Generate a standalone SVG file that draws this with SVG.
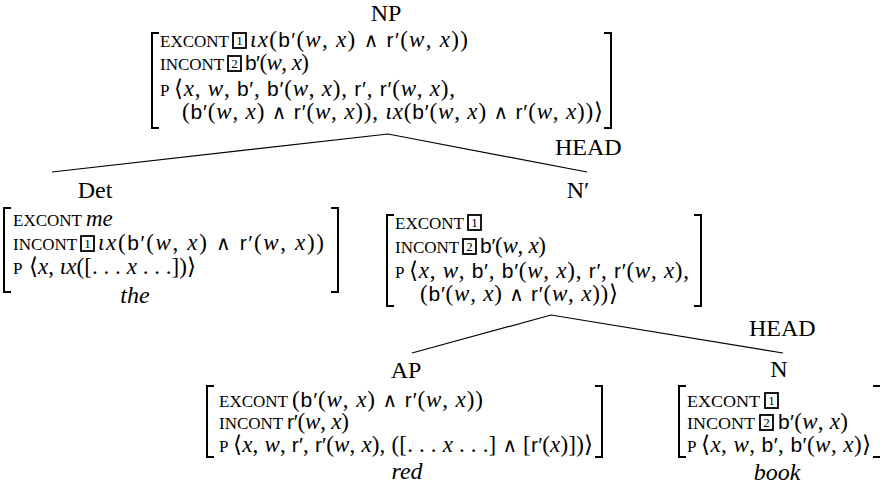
<svg xmlns="http://www.w3.org/2000/svg" width="880" height="497" viewBox="0 0 880 497">
<style>
.lab{font-family:"Liberation Serif",serif;font-size:24px;fill:#000}
.mid{text-anchor:middle}
.sc{font-family:"Liberation Serif",serif;font-size:17px;fill:#000}
.m{font-family:"Liberation Serif","DejaVu Serif",serif;font-size:23px;fill:#000}
.i{font-style:italic}
.s{font-family:"Liberation Sans",sans-serif;font-size:21px}
.w{font-family:"DejaVu Sans Light","DejaVu Sans",sans-serif;font-size:20px}
.bx{fill:none;stroke:#000;stroke-width:1.8}
.bn{font-family:"Liberation Serif",serif;font-size:13px;text-anchor:middle;fill:#000}
.br{fill:none;stroke:#000;stroke-width:2}
.ln{fill:none;stroke:#000;stroke-width:1.2}
</style>
<g id="connectors">
<path class="ln" d="M52,172 L388,134 L587,172"/>
<path class="ln" d="M412,353 L551,315 L783,353"/>
<text class="lab" x="555" y="155">HEAD</text>
<text class="lab" x="749" y="336">HEAD</text>
</g>
<g id="np">
<text class="lab mid" x="386" y="21">NP</text>
<path class="br" d="M159,33 H152 V128 H159"/>
<path class="br" d="M604,33 H611 V128 H604"/>
<text class="sc" x="160" y="47">EXCONT</text>
<rect class="bx" x="233" y="33" width="13" height="15"/><text class="bn" x="239.5" y="45">1</text>
<text class="m" x="250" y="47" textLength="218" lengthAdjust="spacing"><tspan class="i">ιx</tspan>(<tspan class="s">b′</tspan>(<tspan class="i">w</tspan>, <tspan class="i">x</tspan>) <tspan class="w">∧</tspan> <tspan class="s">r′</tspan>(<tspan class="i">w</tspan>, <tspan class="i">x</tspan>))</text>
<text class="sc" x="160" y="70">INCONT</text>
<rect class="bx" x="228" y="56" width="13" height="15"/><text class="bn" x="234.5" y="68">2</text>
<text class="m" x="245" y="70" textLength="64" lengthAdjust="spacing"><tspan class="s">b′</tspan>(<tspan class="i">w</tspan>, <tspan class="i">x</tspan>)</text>
<text class="sc" x="160" y="96">P</text>
<text class="m" x="174" y="96" textLength="281" lengthAdjust="spacing">⟨<tspan class="i">x</tspan>, <tspan class="i">w</tspan>, <tspan class="s">b′</tspan>, <tspan class="s">b′</tspan>(<tspan class="i">w</tspan>, <tspan class="i">x</tspan>), <tspan class="s">r′</tspan>, <tspan class="s">r′</tspan>(<tspan class="i">w</tspan>, <tspan class="i">x</tspan>),</text>
<text class="m" x="182" y="119" textLength="421" lengthAdjust="spacing">(<tspan class="s">b′</tspan>(<tspan class="i">w</tspan>, <tspan class="i">x</tspan>) <tspan class="w">∧</tspan> <tspan class="s">r′</tspan>(<tspan class="i">w</tspan>, <tspan class="i">x</tspan>)), <tspan class="i">ιx</tspan>(<tspan class="s">b′</tspan>(<tspan class="i">w</tspan>, <tspan class="i">x</tspan>) <tspan class="w">∧</tspan> <tspan class="s">r′</tspan>(<tspan class="i">w</tspan>, <tspan class="i">x</tspan>))⟩</text>
</g>
<g id="det">
<text class="lab mid" x="95" y="198">Det</text>
<path class="br" d="M11,208 H4 V292 H11"/>
<path class="br" d="M331,208 H338 V292 H331"/>
<text class="sc" x="13" y="226">EXCONT</text>
<text class="m i" x="86" y="226">me</text>
<text class="sc" x="13" y="250">INCONT</text>
<rect class="bx" x="81" y="236" width="13" height="15"/><text class="bn" x="87.5" y="248">1</text>
<text class="m" x="98" y="250" textLength="226" lengthAdjust="spacing"><tspan class="i">ιx</tspan>(<tspan class="s">b′</tspan>(<tspan class="i">w</tspan>, <tspan class="i">x</tspan>) <tspan class="w">∧</tspan> <tspan class="s">r′</tspan>(<tspan class="i">w</tspan>, <tspan class="i">x</tspan>))</text>
<text class="sc" x="13" y="274">P</text>
<text class="m" x="29" y="274" textLength="167" lengthAdjust="spacing">⟨<tspan class="i">x</tspan>, <tspan class="i">ιx</tspan>([. . . <tspan class="i">x</tspan> . . .])⟩</text>
<text class="lab mid i" x="135" y="303">the</text>
</g>
<g id="nbar">
<text class="lab mid" x="578" y="198">N′</text>
<path class="br" d="M394,215 H387 V306 H394"/>
<path class="br" d="M694,215 H701 V306 H694"/>
<text class="sc" x="395" y="229">EXCONT</text>
<rect class="bx" x="468" y="215" width="13" height="15"/><text class="bn" x="474.5" y="227">1</text>
<text class="sc" x="395" y="253">INCONT</text>
<rect class="bx" x="463" y="239" width="13" height="15"/><text class="bn" x="469.5" y="251">2</text>
<text class="m" x="480" y="253" textLength="66" lengthAdjust="spacing"><tspan class="s">b′</tspan>(<tspan class="i">w</tspan>, <tspan class="i">x</tspan>)</text>
<text class="sc" x="395" y="278">P</text>
<text class="m" x="409" y="278" textLength="280" lengthAdjust="spacing">⟨<tspan class="i">x</tspan>, <tspan class="i">w</tspan>, <tspan class="s">b′</tspan>, <tspan class="s">b′</tspan>(<tspan class="i">w</tspan>, <tspan class="i">x</tspan>), <tspan class="s">r′</tspan>, <tspan class="s">r′</tspan>(<tspan class="i">w</tspan>, <tspan class="i">x</tspan>),</text>
<text class="m" x="420" y="301" textLength="198" lengthAdjust="spacing">(<tspan class="s">b′</tspan>(<tspan class="i">w</tspan>, <tspan class="i">x</tspan>) <tspan class="w">∧</tspan> <tspan class="s">r′</tspan>(<tspan class="i">w</tspan>, <tspan class="i">x</tspan>))⟩</text>
</g>
<g id="ap">
<text class="lab mid" x="406" y="378">AP</text>
<path class="br" d="M214,386 H207 V457 H214"/>
<path class="br" d="M595,386 H602 V457 H595"/>
<text class="sc" x="219" y="407">EXCONT</text>
<text class="m" x="292" y="407" textLength="191" lengthAdjust="spacing">(<tspan class="s">b′</tspan>(<tspan class="i">w</tspan>, <tspan class="i">x</tspan>) <tspan class="w">∧</tspan> <tspan class="s">r′</tspan>(<tspan class="i">w</tspan>, <tspan class="i">x</tspan>))</text>
<text class="sc" x="219" y="429">INCONT</text>
<text class="m" x="287" y="429" textLength="62" lengthAdjust="spacing"><tspan class="s">r′</tspan>(<tspan class="i">w</tspan>, <tspan class="i">x</tspan>)</text>
<text class="sc" x="219" y="452">P</text>
<text class="m" x="233" y="452" textLength="360" lengthAdjust="spacing">⟨<tspan class="i">x</tspan>, <tspan class="i">w</tspan>, <tspan class="s">r′</tspan>, <tspan class="s">r′</tspan>(<tspan class="i">w</tspan>, <tspan class="i">x</tspan>), ([. . . <tspan class="i">x</tspan> . . .] <tspan class="w">∧</tspan> [<tspan class="s">r′</tspan>(<tspan class="i">x</tspan>)])⟩</text>
<text class="lab mid i" x="407" y="479">red</text>
</g>
<g id="n">
<text class="lab mid" x="779" y="377">N</text>
<path class="br" d="M686,386 H679 V457 H686"/>
<path class="br" d="M873,386 H881 V457 H873"/>
<text class="sc" x="687" y="407" textLength="73" lengthAdjust="spacingAndGlyphs">EXCONT</text>
<rect class="bx" x="765" y="393" width="13" height="15"/><text class="bn" x="771.5" y="405">1</text>
<text class="sc" x="687" y="429" textLength="68" lengthAdjust="spacingAndGlyphs">INCONT</text>
<rect class="bx" x="760" y="415" width="13" height="15"/><text class="bn" x="766.5" y="427">2</text>
<text class="m" x="778" y="429" textLength="70" lengthAdjust="spacing"><tspan class="s">b′</tspan>(<tspan class="i">w</tspan>, <tspan class="i">x</tspan>)</text>
<text class="sc" x="687" y="452">P</text>
<text class="m" x="701" y="452" textLength="170" lengthAdjust="spacing">⟨<tspan class="i">x</tspan>, <tspan class="i">w</tspan>, <tspan class="s">b′</tspan>, <tspan class="s">b′</tspan>(<tspan class="i">w</tspan>, <tspan class="i">x</tspan>)⟩</text>
<text class="lab mid i" x="777" y="480">book</text>
</g>
</svg>
